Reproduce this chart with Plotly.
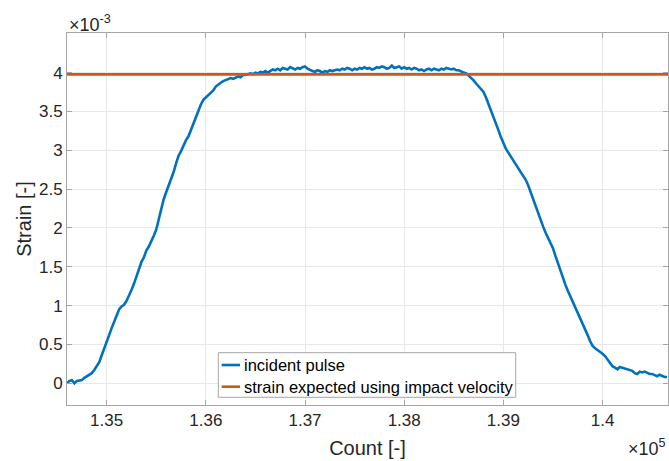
import plotly.graph_objects as go

# Sample counts (every 25 counts) and measured incident strain (units of 1e-3)
count = list(range(134600, 140651, 25))
strain_milli = [
    0.00, 0.03, 0.04, 0.00, 0.03, 0.04, 0.04, 0.07, 0.09, 0.12,
    0.13, 0.17, 0.22, 0.27, 0.36, 0.44, 0.54, 0.62, 0.71, 0.79,
    0.89, 0.95, 0.99, 1.01, 1.06, 1.12, 1.20, 1.28, 1.37, 1.45,
    1.56, 1.62, 1.71, 1.76, 1.82, 1.90, 1.98, 2.12, 2.26, 2.37,
    2.46, 2.55, 2.62, 2.72, 2.83, 2.93, 2.99, 3.07, 3.13, 3.18,
    3.26, 3.34, 3.44, 3.52, 3.59, 3.65, 3.68, 3.71, 3.75, 3.77,
    3.82, 3.85, 3.87, 3.89, 3.90, 3.91, 3.93, 3.92, 3.94, 3.95,
    3.94, 3.97, 3.97, 3.98, 3.99, 3.98, 4.00, 3.99, 4.01, 4.00,
    4.02, 4.00, 4.02, 4.04, 4.03, 4.05, 4.03, 4.06, 4.05, 4.04,
    4.07, 4.05, 4.04, 4.06, 4.05, 4.07, 4.08, 4.05, 4.03, 4.02,
    4.01, 4.03, 4.02, 4.00, 4.02, 4.01, 4.03, 4.02, 4.03, 4.04,
    4.03, 4.05, 4.04, 4.06, 4.05, 4.03, 4.05, 4.04, 4.06, 4.05,
    4.07, 4.05, 4.06, 4.04, 4.05, 4.07, 4.06, 4.08, 4.07, 4.05,
    4.06, 4.09, 4.06, 4.07, 4.08, 4.05, 4.07, 4.05, 4.06, 4.04,
    4.06, 4.05, 4.03, 4.04, 4.02, 4.04, 4.05, 4.03, 4.05, 4.04,
    4.03, 4.05, 4.04, 4.06, 4.05, 4.04, 4.05, 4.03, 4.03, 4.01,
    4.00, 3.99, 3.96, 3.94, 3.90, 3.86, 3.82, 3.79, 3.75, 3.68,
    3.60, 3.52, 3.44, 3.35, 3.26, 3.17, 3.09, 3.02, 2.97, 2.92,
    2.87, 2.82, 2.78, 2.73, 2.68, 2.62, 2.55, 2.46, 2.36, 2.28,
    2.19, 2.10, 2.02, 1.94, 1.88, 1.81, 1.74, 1.64, 1.54, 1.45,
    1.36, 1.27, 1.19, 1.12, 1.06, 0.99, 0.92, 0.85, 0.78, 0.70,
    0.62, 0.54, 0.48, 0.45, 0.43, 0.41, 0.38, 0.35, 0.31, 0.26,
    0.22, 0.20, 0.18, 0.21, 0.20, 0.19, 0.18, 0.17, 0.16, 0.13,
    0.12, 0.15, 0.14, 0.15, 0.13, 0.12, 0.12, 0.10, 0.09, 0.11,
    0.09, 0.08, 0.08,
]
assert len(count) == len(strain_milli)

# Strain predicted from the impact velocity (units of 1e-3)
expected_count = [134600, 140660]
expected_milli = [3.977, 3.977]

x_tickvals = [135000, 136000, 137000, 138000, 139000, 140000]
x_ticktext = ["1.35", "1.36", "1.37", "1.38", "1.39", "1.4"]
y_tickvals = [0, 0.5, 1, 1.5, 2, 2.5, 3, 3.5, 4]
y_ticktext = ["0", "0.5", "1", "1.5", "2", "2.5", "3", "3.5", "4"]

legend_names = ["incident pulse", "strain expected using impact velocity"]
BLUE = "#0072BD"
ORANGE = "#D95319"

FONT = "Liberation Sans, Arial, Helvetica, sans-serif"
TEXT = "#262626"
AXIS = "#a6a6a6"
GRID = "#e8e8e8"

fig = go.Figure()
fig.add_trace(go.Scatter(
    x=count, y=strain_milli, mode="lines", name=legend_names[0],
    line=dict(color=BLUE, width=2.6), showlegend=False,
))
fig.add_trace(go.Scatter(
    x=expected_count, y=expected_milli, mode="lines", name=legend_names[1],
    line=dict(color=ORANGE, width=2.6), showlegend=False,
))

fig.update_layout(
    width=669, height=461,
    margin=dict(l=67, r=1, t=33, b=56),
    paper_bgcolor="white", plot_bgcolor="white",
    font=dict(family=FONT, size=17, color=TEXT),
)

fig.update_xaxes(
    range=[134600, 140660], tickvals=x_tickvals, ticktext=x_ticktext,
    showgrid=True, gridcolor=GRID, gridwidth=1,
    showline=True, linecolor=AXIS, linewidth=1, mirror="ticks",
    ticks="inside", ticklen=5, tickcolor=AXIS,
    zeroline=False,
    tickfont=dict(size=17, color=TEXT),
    title=dict(text="Count [-]", font=dict(size=20, color=TEXT), standoff=11),
)
fig.update_yaxes(
    range=[-0.28, 4.51], tickvals=y_tickvals, ticktext=y_ticktext,
    showgrid=True, gridcolor=GRID, gridwidth=1,
    showline=True, linecolor=AXIS, linewidth=1, mirror="ticks",
    ticks="inside", ticklen=5, tickcolor=AXIS,
    zeroline=False,
    tickfont=dict(size=17, color=TEXT),
    title=dict(text="Strain [-]", font=dict(size=20, color=TEXT), standoff=1),
)

# Boxed legend inside the lower part of the axes
fig.add_shape(
    type="rect", xref="paper", yref="paper",
    x0=0.2518, x1=0.7466, y0=0.0207, y1=0.1406,
    fillcolor="white", line=dict(color=AXIS, width=1), layer="above",
)
for name, color, ypos in zip(legend_names, [BLUE, ORANGE], [0.1075, 0.0492]):
    fig.add_shape(
        type="line", xref="paper", yref="paper",
        x0=0.2574, x1=0.2879, y0=ypos, y1=ypos,
        line=dict(color=color, width=2.6), layer="above",
    )
    fig.add_annotation(
        xref="paper", yref="paper", x=0.2915, y=ypos,
        xanchor="left", yanchor="middle", text=name, showarrow=False,
        font=dict(family=FONT, size=16.5, color="#000000"),
    )

# Axis exponent labels
fig.add_annotation(
    xref="paper", yref="paper", x=0, y=1, xanchor="left", yanchor="bottom",
    text="\u00d710<sup>-3</sup>", showarrow=False, yshift=-4,
    font=dict(family=FONT, size=18, color=TEXT),
)
fig.add_annotation(
    xref="paper", yref="paper", x=1, y=0, xanchor="right", yanchor="top",
    text="\u00d710<sup>5</sup>", showarrow=False, yshift=-29,
    font=dict(family=FONT, size=18, color=TEXT),
)

fig.write_html("out.html")
